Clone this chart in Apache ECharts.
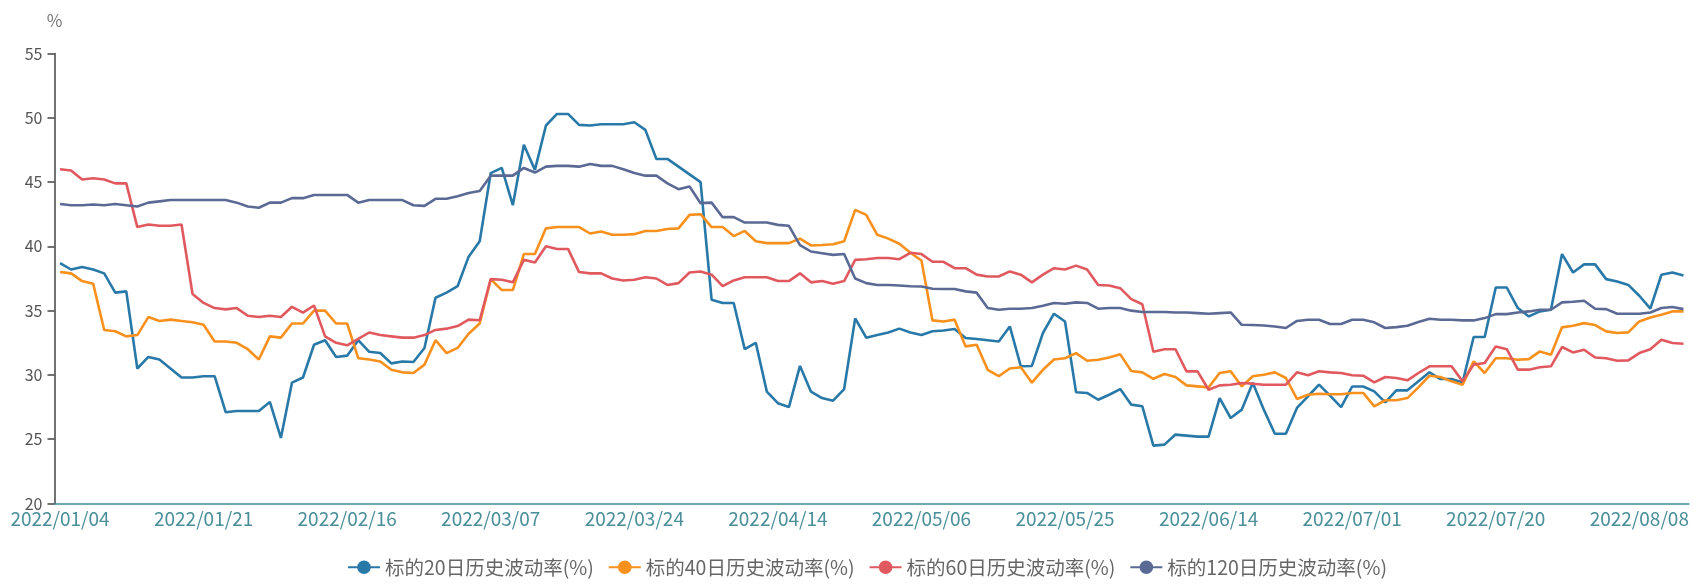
<!DOCTYPE html>
<html><head><meta charset="utf-8">
<script src="https://cdn.jsdelivr.net/npm/echarts@6/dist/echarts.min.js"></script>
<style>html,body{margin:0;padding:0;background:#fff}#c{width:1696px;height:584px}</style>
</head><body><div id="c"></div>
<script>
// Trading-day calendar (categories)
const startDate = '2022-01-04';
const pointCount = 148;
const holidays = ['2022-01-31','2022-02-01','2022-02-02','2022-02-03','2022-02-04',
  '2022-04-04','2022-04-05','2022-05-02','2022-05-03','2022-05-04','2022-06-03'];

const seriesNames = ['标的20日历史波动率(%)','标的40日历史波动率(%)','标的60日历史波动率(%)','标的120日历史波动率(%)'];
const seriesColors = ['#2878A8','#F8901E','#E0595E','#5A6A94'];

const vol20 = [38.7,38.2,38.4,38.2,37.9,36.4,36.5,30.5,31.4,31.2,30.5,29.8,29.8,29.9,29.9,27.1,27.2,27.2,27.2,27.9,
25.1,29.4,29.8,32.35,32.7,31.4,31.5,32.7,31.8,31.7,30.9,31.05,31.0,32.1,36.0,36.4,36.9,39.2,40.4,45.7,
46.1,43.2,47.9,45.95,49.4,50.3,50.3,49.45,49.4,49.5,49.5,49.5,49.65,49.06,46.8,46.8,46.2,45.6,45.0,35.85,
35.6,35.6,32.0,32.5,28.7,27.8,27.5,30.7,28.7,28.2,28.0,28.9,34.4,32.9,33.1,33.3,33.6,33.3,33.1,33.4,
33.46,33.57,32.87,32.8,32.7,32.6,33.77,30.67,30.7,33.26,34.76,34.16,28.65,28.6,28.07,28.46,28.9,27.69,27.56,24.5,
24.58,25.36,25.28,25.2,25.2,28.2,26.65,27.3,29.4,27.3,25.43,25.43,27.43,28.34,29.24,28.39,27.5,29.1,29.1,28.72,
27.87,28.8,28.8,29.5,30.2,29.68,29.68,29.42,32.95,32.95,36.8,36.8,35.2,34.55,34.94,35.07,39.4,37.97,38.6,38.6,
37.45,37.27,37.0,36.16,35.15,37.79,37.97,37.74];

const vol40 = [38.0,37.9,37.3,37.1,33.5,33.4,33.0,33.1,34.5,34.2,34.3,34.2,34.1,33.9,32.6,32.6,32.5,32.0,31.2,33.0,
32.9,34.0,34.0,35.0,35.0,34.0,34.0,31.3,31.2,31.05,30.4,30.2,30.15,30.8,32.7,31.7,32.1,33.2,34.0,37.45,
36.6,36.6,39.4,39.4,41.4,41.5,41.5,41.5,41.0,41.16,40.9,40.9,40.95,41.2,41.2,41.35,41.4,42.45,42.5,41.5,
41.5,40.8,41.2,40.4,40.25,40.25,40.25,40.6,40.07,40.1,40.17,40.4,42.84,42.45,40.9,40.6,40.2,39.5,38.9,34.24,
34.16,34.3,32.22,32.35,30.4,29.9,30.5,30.6,29.4,30.4,31.2,31.3,31.7,31.1,31.18,31.36,31.6,30.3,30.2,29.7,
30.07,29.84,29.19,29.11,29.03,30.15,30.28,29.11,29.9,30.02,30.2,29.76,28.13,28.46,28.54,28.5,28.5,28.6,28.6,27.56,
28.03,28.03,28.2,29.03,29.94,29.84,29.5,29.24,31.05,30.15,31.3,31.3,31.18,31.23,31.83,31.57,33.7,33.83,34.03,33.88,
33.39,33.26,33.31,34.16,34.47,34.68,34.94,34.94];

const vol60 = [46.0,45.9,45.2,45.3,45.2,44.9,44.9,41.5,41.7,41.6,41.6,41.7,36.3,35.6,35.2,35.1,35.2,34.6,34.5,34.6,
34.5,35.3,34.85,35.4,33.0,32.5,32.3,32.8,33.3,33.1,33.0,32.9,32.9,33.1,33.5,33.6,33.8,34.3,34.25,37.45,
37.4,37.2,38.95,38.75,40.0,39.8,39.8,38.0,37.9,37.9,37.5,37.35,37.4,37.6,37.5,37.0,37.14,37.97,38.05,37.8,
36.9,37.35,37.6,37.6,37.6,37.3,37.3,37.9,37.2,37.3,37.1,37.3,38.95,39.0,39.1,39.1,39.0,39.5,39.4,38.8,
38.8,38.3,38.3,37.8,37.66,37.66,38.05,37.8,37.2,37.8,38.3,38.2,38.5,38.2,37.0,36.96,36.75,35.9,35.5,31.8,
32.0,32.0,30.28,30.28,28.85,29.19,29.24,29.37,29.32,29.24,29.24,29.24,30.2,29.97,30.28,30.2,30.15,29.97,29.94,29.42,
29.84,29.76,29.58,30.15,30.67,30.67,30.67,29.5,30.8,30.93,32.22,32.0,30.41,30.41,30.6,30.67,32.17,31.75,31.96,31.36,
31.3,31.1,31.13,31.7,32.0,32.74,32.48,32.43];

const vol120 = [43.3,43.2,43.2,43.25,43.2,43.3,43.2,43.1,43.4,43.5,43.6,43.6,43.6,43.6,43.6,43.6,43.4,43.1,43.0,43.4,
43.4,43.75,43.75,44.0,44.0,44.0,44.0,43.4,43.6,43.6,43.6,43.6,43.2,43.15,43.7,43.7,43.9,44.15,44.3,45.5,
45.5,45.5,46.1,45.74,46.2,46.26,46.26,46.2,46.4,46.26,46.26,46.0,45.7,45.5,45.5,44.9,44.45,44.65,43.36,43.4,
42.27,42.27,41.85,41.85,41.85,41.67,41.6,40.1,39.6,39.47,39.34,39.4,37.5,37.14,37.0,37.0,36.96,36.9,36.88,36.7,
36.68,36.68,36.5,36.4,35.2,35.07,35.15,35.15,35.2,35.38,35.6,35.54,35.64,35.6,35.15,35.2,35.2,35.0,34.9,34.9,
34.9,34.86,34.86,34.81,34.76,34.81,34.86,33.9,33.88,33.85,33.77,33.65,34.2,34.29,34.29,33.96,33.96,34.29,34.29,34.09,
33.65,33.72,33.83,34.11,34.37,34.29,34.29,34.24,34.24,34.42,34.73,34.73,34.86,34.94,35.07,35.07,35.64,35.69,35.77,35.15,
35.12,34.76,34.76,34.76,34.86,35.2,35.28,35.12];

const yTicks = {min: 20, max: 55, interval: 5};

function buildDates() {
  const out = [];
  const d = new Date(startDate + 'T00:00:00Z');
  while (out.length < pointCount) {
    const wd = d.getUTCDay();
    const iso = d.toISOString().slice(0, 10);
    if (wd !== 0 && wd !== 6 && holidays.indexOf(iso) < 0) out.push(iso.replace(/-/g, '/'));
    d.setUTCDate(d.getUTCDate() + 1);
  }
  return out;
}
const dates = buildDates();

const font = '"Noto Sans CJK SC", "Noto Sans", sans-serif';
const chart = echarts.init(document.getElementById('c'), null, {renderer: 'canvas'});
const dataSets = [vol20, vol40, vol60, vol120];
chart.setOption({
  animation: false,
  color: seriesColors,
  textStyle: {fontFamily: font},
  grid: {left: 54.5, right: 7, top: 53.5, bottom: 80.5},
  legend: {
    bottom: 2, left: 342,
    itemWidth: 32, itemHeight: 17, itemGap: 14,
    textStyle: {fontSize: 19.5, color: '#666', fontFamily: font},
    data: seriesNames
  },
  xAxis: {
    type: 'category',
    boundaryGap: true,
    data: dates,
    axisLine: {lineStyle: {color: '#3f8d97', width: 1.5}},
    axisTick: {length: 6, lineStyle: {color: '#3f8d97', width: 1.5}, interval: 12},
    axisLabel: {interval: 12, color: '#4a8f99', fontSize: 19, margin: 6, fontFamily: font},
    splitLine: {show: false}
  },
  yAxis: {
    type: 'value',
    min: yTicks.min, max: yTicks.max, interval: yTicks.interval,
    name: '%', nameGap: 24,
    nameTextStyle: {color: '#777', fontSize: 17, fontFamily: font},
    axisLine: {show: true, lineStyle: {color: '#444', width: 1.5}},
    axisTick: {show: true, length: 7, lineStyle: {color: '#444', width: 1.5}},
    axisLabel: {color: '#555', fontSize: 16, margin: 12, fontFamily: font},
    splitLine: {show: false}
  },
  series: dataSets.map((arr, k) => ({
    name: seriesNames[k],
    type: 'line',
    data: arr,
    symbol: 'circle',
    symbolSize: 8,
    showSymbol: false,
    lineStyle: {width: 2.6, color: seriesColors[k]},
    itemStyle: {color: seriesColors[k]}
  }))
});
</script></body></html>
